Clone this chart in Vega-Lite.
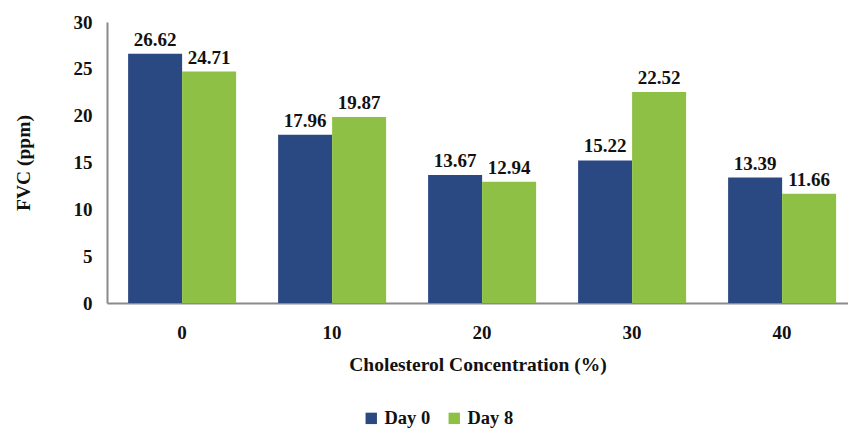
{
  "$schema": "https://vega.github.io/schema/vega-lite/v6.json",
  "width": 741,
  "height": 281,
  "autosize": {"type": "none"},
  "padding": {"left": 107, "top": 22, "right": 0, "bottom": 128},
  "background": "white",
  "config": {
    "view": {"stroke": null},
    "font": "Liberation Serif",
    "axis": {"labelFont": "Liberation Serif", "titleFont": "Liberation Serif", "labelFontWeight": "bold", "titleFontWeight": "bold", "labelColor": "#111", "titleColor": "#111"},
    "legend": {"labelFont": "Liberation Serif", "labelFontWeight": "bold"}
  },
  "data": {
    "values": [
      {"conc": "0", "day": "Day 0", "fvc": 26.62},
      {"conc": "0", "day": "Day 8", "fvc": 24.71},
      {"conc": "10", "day": "Day 0", "fvc": 17.96},
      {"conc": "10", "day": "Day 8", "fvc": 19.87},
      {"conc": "20", "day": "Day 0", "fvc": 13.67},
      {"conc": "20", "day": "Day 8", "fvc": 12.94},
      {"conc": "30", "day": "Day 0", "fvc": 15.22},
      {"conc": "30", "day": "Day 8", "fvc": 22.52},
      {"conc": "40", "day": "Day 0", "fvc": 13.39},
      {"conc": "40", "day": "Day 8", "fvc": 11.66}
    ]
  },
  "encoding": {
    "x": {
      "field": "conc", "type": "ordinal", "sort": ["0", "10", "20", "30", "40"],
      "scale": {"paddingInner": 0.28, "paddingOuter": 0.11, "align": 0.64},
      "axis": {"title": "Cholesterol Concentration (%)", "labelAngle": 0, "ticks": false, "labelPadding": 20, "labelFontSize": 19, "titleFontSize": 19.5, "titlePadding": 13, "domainColor": "#8a8a8a", "domainWidth": 2}
    },
    "xOffset": {"field": "day", "type": "nominal"},
    "y": {
      "field": "fvc", "type": "quantitative",
      "scale": {"domain": [0, 30]},
      "axis": {"title": "FVC (ppm)", "values": [0, 5, 10, 15, 20, 25, 30], "grid": false, "ticks": false, "labelPadding": 15, "labelFontSize": 19, "titleFontSize": 19.5, "titlePadding": 40, "domainColor": "#8a8a8a", "domainWidth": 2}
    }
  },
  "layer": [
    {
      "mark": {"type": "bar"},
      "encoding": {
        "color": {
          "field": "day", "type": "nominal",
          "scale": {"domain": ["Day 0", "Day 8"], "range": ["#2A4882", "#8DC045"]},
          "legend": {"title": null, "orient": "none", "legendX": 255, "legendY": 387, "direction": "horizontal", "symbolType": "square", "symbolSize": 130, "symbolStrokeWidth": 0, "labelFontSize": 18.5, "columnPadding": 14, "labelColor": "#111", "padding": 0}
        }
      }
    },
    {
      "mark": {"type": "text", "baseline": "alphabetic", "dy": -8, "fontWeight": "bold", "fontSize": 19, "font": "Liberation Serif", "color": "#111"},
      "encoding": {"text": {"field": "fvc", "type": "quantitative", "format": ".2f"}}
    }
  ]
}
